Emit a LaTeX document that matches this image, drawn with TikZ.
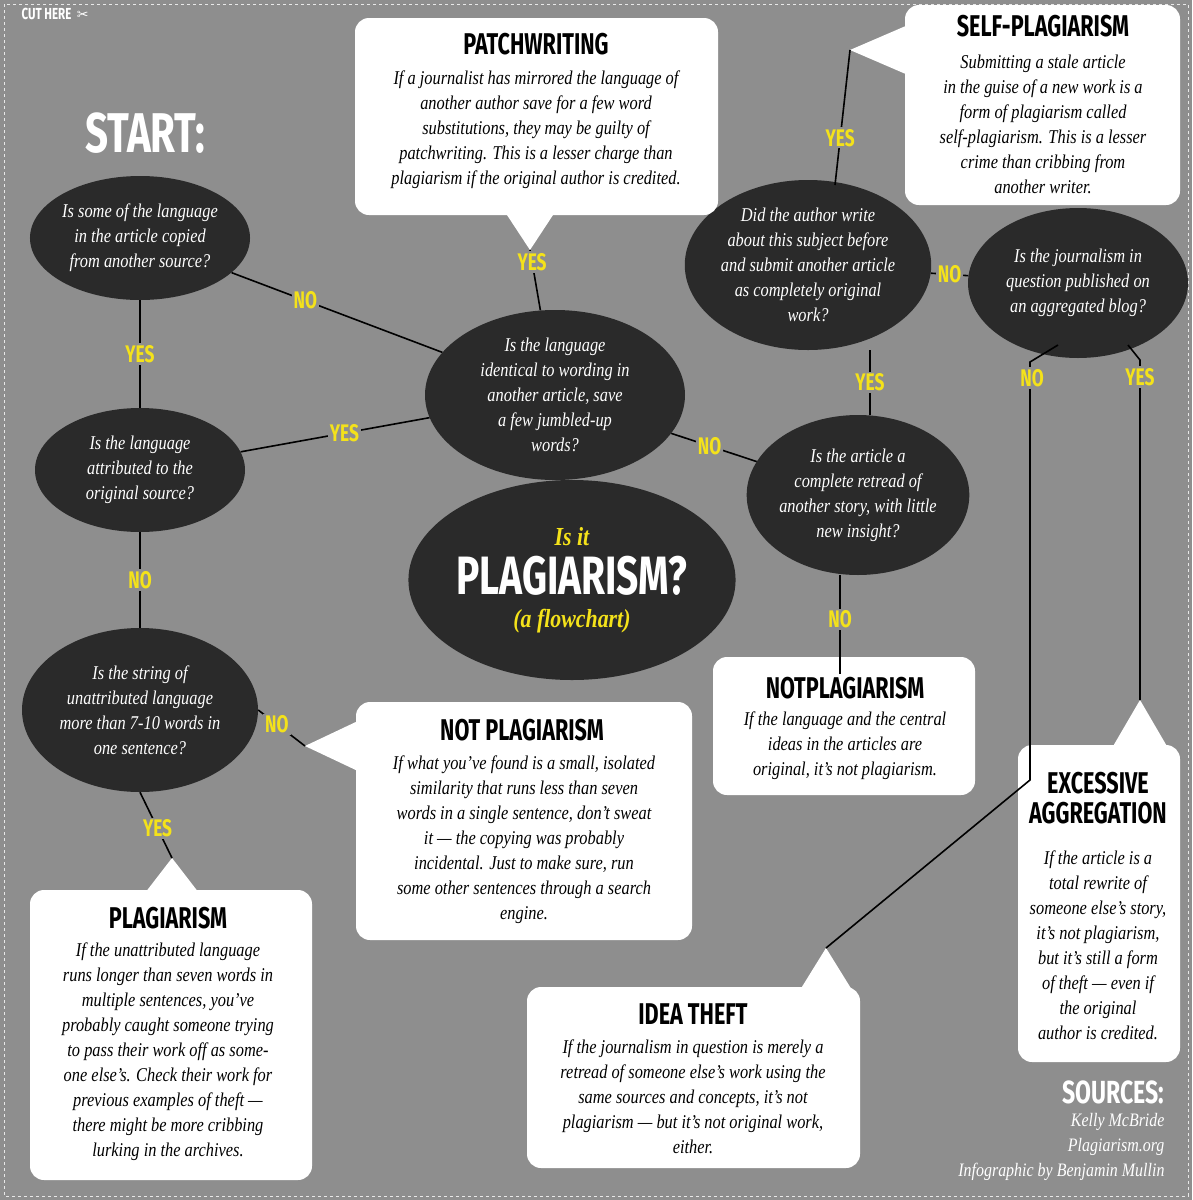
\documentclass[tikz,border=0pt]{standalone}
\usepackage{fontspec}
\setmainfont{Liberation Serif}
\newfontfamily\hd[FakeStretch=0.72]{Fira Sans}
\newfontfamily\bd[FakeStretch=0.84,Ligatures=TeX]{Liberation Serif}
\newfontfamily\symfont{DejaVu Sans}
\usetikzlibrary{shapes.geometric}
\definecolor{bg}{HTML}{8E8E8E}
\definecolor{dk}{HTML}{2A2A2A}
\definecolor{yl}{HTML}{F4E21A}
\begin{document}
\begin{tikzpicture}[x=1pt,y=-1pt,
 q/.style={ellipse,fill=dk,inner sep=0pt,text=white,align=center,font=\bd\itshape\fontsize{19.5}{25}\selectfont},
 lab/.style={text=yl,font=\hd\bfseries\fontsize{24}{24}\selectfont,fill=bg,inner sep=2pt},
 box/.style={fill=white,rounded corners=14pt},
 bt/.style={align=center,font=\bd\itshape\fontsize{19.5}{25}\selectfont},
 ht/.style={font=\hd\bfseries\fontsize{30}{30}\selectfont},
 ln/.style={line width=1.6pt,black}]
\fill[bg] (0,0) rectangle (1192,1200);
\draw[white!80!bg,dashed,line width=1pt] (4,4) rectangle (1188,1196);
\node[anchor=west,text=white,font=\hd\bfseries\fontsize{16}{16}\selectfont] (cut) at (18,14) {CUT HERE \,{\symfont\fontsize{14}{14}\selectfont ✂}};
\node[text=white,font=\hd\bfseries\fontsize{56}{56}\selectfont] (start) at (145,133) {START:};
% ellipses
\node[q,minimum width=220pt,minimum height=124pt] (e1) at (140,238) {Is some of the language\\in the article copied\\from another source?};
\node[q,minimum width=210pt,minimum height=124pt] (e2) at (140,470) {Is the language\\attributed to the\\original source?};
\node[q,minimum width=236pt,minimum height=164pt] (e3) at (140,710) {Is the string of\\unattributed language\\more than 7-10 words in\\one sentence?};
\node[q,minimum width=260pt,minimum height=170pt] (e4) at (555,395) {Is the language\\identical to wording in\\another article, save\\a few jumbled-up\\words?};
\node[ellipse,fill=dk,minimum width=310pt,minimum height=200pt,align=center,inner sep=0pt] (t) at (572,580)
 {{\color{yl}\bd\bfseries\itshape\fontsize{26}{28}\selectfont Is it}\\[10pt]{\color{white}\hd\bfseries\fontsize{54}{54}\selectfont PLAGIARISM?}\\[12pt]{\color{yl}\bd\bfseries\itshape\fontsize{26}{28}\selectfont (a flowchart)}};
\node[q,minimum width=224pt,minimum height=170pt] (e6) at (808,265) {Did the author write\\about this subject before\\and submit another article\\as completely original\\work?};
\node[q,minimum width=220pt,minimum height=150pt] (e7) at (1078,283) {Is the journalism in\\question published on\\an aggregated blog?};
\node[q,minimum width=210pt,minimum height=160pt] (e8) at (858,495) {Is the article a\\complete retread of\\another story, with little\\new insight?};
% boxes with pointers
\fill[white] (505,212) -- (530,250) -- (555,212) -- cycle;
\fill[box] (355,18) rectangle (718,215);
\node[ht] (h1) at (536,44) {PATCHWRITING};
\node[bt] (b1) at (536,130) {If a journalist has mirrored the language of\\another author save for a few word\\substitutions, they may be guilty of\\patchwriting. This is a lesser charge than\\plagiarism if the original author is credited.};
\coordinate (p1) at (530,250);
\fill[white] (908,25) -- (850,50) -- (908,75) -- cycle;
\fill[box] (905,5) rectangle (1180,205);
\node[ht] (h2) at (1043,26) {SELF-PLAGIARISM};
\node[bt] (b2) at (1043,124) {Submitting a stale article\\in the guise of a new work is a\\form of plagiarism called\\self-plagiarism. This is a lesser\\crime than cribbing from\\another writer.};
\coordinate (p2) at (850,50);
\fill[white] (360,720) -- (305,746) -- (360,772) -- cycle;
\fill[box] (356,702) rectangle (692,940);
\node[ht] (h3) at (522,730) {NOT PLAGIARISM};
\node[bt] (b3) at (524,840) {If what you’ve found is a small, isolated\\similarity that runs less than seven\\words in a single sentence, don’t sweat\\it — the copying was probably\\incidental. Just to make sure, run\\some other sentences through a search\\engine.};
\coordinate (p3) at (305,746);
\fill[white] (145,893) -- (172,858) -- (199,893) -- cycle;
\fill[box] (30,890) rectangle (312,1180);
\node[ht] (h4) at (168,918) {PLAGIARISM};
\node[bt] (b4) at (168,1052) {If the unattributed language\\runs longer than seven words in\\multiple sentences, you’ve\\probably caught someone trying\\to pass their work off as some-\\one else’s. Check their work for\\previous examples of theft —\\there might be more cribbing\\lurking in the archives.};
\coordinate (p4) at (172,858);
\fill[box] (713,657) rectangle (975,795);
\node[ht] (h5) at (845,688) {NOTPLAGIARISM};
\node[bt] (b5) at (845,746) {If the language and the central\\ideas in the articles are\\original, it’s not plagiarism.};
\fill[white] (800,990) -- (826,948) -- (852,990) -- cycle;
\fill[box] (527,987) rectangle (860,1168);
\node[ht] (h6) at (693,1014) {IDEA THEFT};
\node[bt] (b6) at (693,1097) {If the journalism in question is merely a\\retread of someone else’s work using the\\same sources and concepts, it’s not\\plagiarism — but it’s not original work,\\either.};
\coordinate (p6) at (826,948);
\fill[white] (1112,748) -- (1140,700) -- (1168,748) -- cycle;
\fill[box] (1018,745) rectangle (1180,1062);
\node[ht,align=center,font=\hd\bfseries\fontsize{30}{30}\selectfont] (h7) at (1098,798) {EXCESSIVE\\AGGREGATION};
\node[bt] (b7) at (1098,945) {If the article is a\\total rewrite of\\someone else’s story,\\it’s not plagiarism,\\but it’s still a form\\of theft — even if\\the original\\author is credited.};
\coordinate (p7) at (1140,700);
% connectors
\draw[ln] (e1) -- (e4) node[lab,pos=0.35] {NO};
\draw[ln] (e1) -- (e2) node[lab,pos=0.5] {YES};
\draw[ln] (e2) -- (e4) node[lab,pos=0.55] {YES};
\draw[ln] (e2) -- (e3) node[lab,pos=0.5] {NO};
\draw[ln] (e3.east) -- (p3) node[lab,pos=0.4] {NO};
\draw[ln] (e3.south) -- (p4) node[lab,pos=0.55] {YES};
\draw[ln] (e4) -- (p1) node[lab,pos=0.8] {YES};
\draw[ln] (e4) -- (e8) node[lab,pos=0.45] {NO};
\draw[ln] (e8.north -| 870,0) -- (e6.south -| 870,0) node[lab,pos=0.5] {YES};
\draw[ln] (835,185) -- (p2) node[lab,pos=0.35] {YES};
\draw[ln] (e6) -- (e7) node[lab,pos=0.5] {NO};
\draw[ln] (e8.south -| 840,0) -- (h5.north -| 840,0) node[lab,pos=0.45] {NO};
\coordinate (k1) at (1030,780);
\draw[ln] (1058,345) -- (1030,362) -- (k1) -- (p6);
\node[lab] (n7) at (1032,378) {NO};
\draw[ln] (1128,345) -- (1140,360) -- (p7);
\node[lab] (y7) at (1140,377) {YES};
% sources
\node[anchor=east,text=white,font=\hd\bfseries\fontsize{32}{32}\selectfont] (src) at (1168,1092) {SOURCES:};
\node[anchor=north east,align=right,text=white,font=\bd\itshape\fontsize{19}{25}\selectfont] (src2) at (1168,1110) {Kelly McBride\\Plagiarism.org\\Infographic by Benjamin Mullin};
\end{tikzpicture}
\end{document}
